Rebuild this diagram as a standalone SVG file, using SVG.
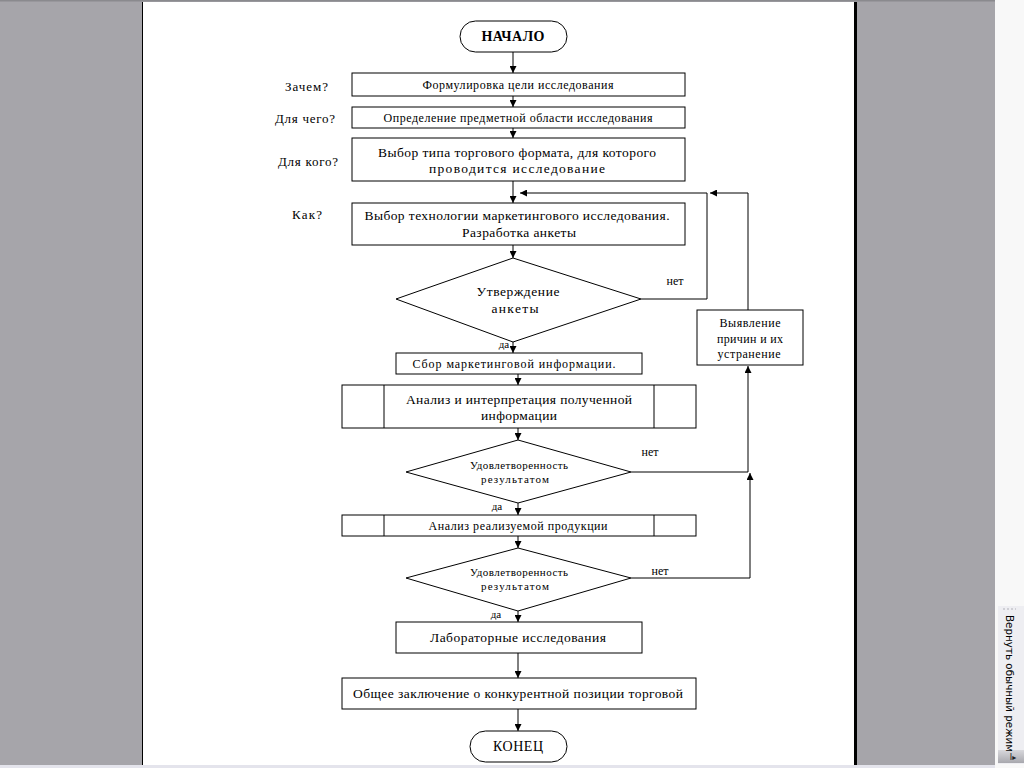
<svg xmlns="http://www.w3.org/2000/svg" width="1024" height="768" viewBox="0 0 1024 768">
<defs>
<marker id="ah" viewBox="0 0 8 8" refX="8" refY="4" markerWidth="7" markerHeight="7" markerUnits="userSpaceOnUse" orient="auto">
<path d="M0,0 L8,4 L0,8 Z" fill="#000"/>
</marker>
<linearGradient id="tabg" x1="0" y1="0" x2="0" y2="1">
<stop offset="0" stop-color="#d8d8dc"/>
<stop offset="1" stop-color="#a8a8ae"/>
</linearGradient>
</defs>
<style>
.b{fill:#fff;stroke:#000;stroke-width:1}
.t{font-family:"Liberation Serif","Times New Roman",serif;fill:#000;text-anchor:middle}
.l{font-family:"Liberation Serif","Times New Roman",serif;fill:#000;font-size:13px}
.c{fill:none;stroke:#000;stroke-width:1}
.a{fill:none;stroke:#000;stroke-width:1;marker-end:url(#ah)}
</style>
<rect x="0" y="0" width="1024" height="768" fill="#a6a5aa"/>
<rect x="0" y="0" width="995" height="1.5" fill="#8a8a8e"/>
<rect x="143" y="2" width="711" height="766" fill="#fff"/>
<rect x="142" y="2" width="1" height="766" fill="#000"/>
<rect x="854" y="2" width="3" height="766" fill="#000"/>
<rect x="995" y="0" width="29" height="768" fill="#f8f8f8"/>
<rect x="0" y="765" width="995" height="3" fill="#e4e4ec"/>
<g id="sidebar-tab">
<rect x="998" y="606" width="26" height="158" fill="#eeeef2"/>
<line x1="1003" y1="609" x2="1016" y2="609" stroke="#b0b0b8" stroke-dasharray="2,2"/>
<rect x="998" y="750" width="26" height="13" fill="url(#tabg)"/>
<text x="1013" y="760" font-family="DejaVu Sans,sans-serif" font-size="8" fill="#222" text-anchor="middle">I▸</text>
<text transform="translate(1006,615) rotate(90)" font-family="DejaVu Sans,sans-serif" font-size="10.5" fill="#000" textLength="137" lengthAdjust="spacingAndGlyphs">Вернуть обычный режим</text>
</g>

<g id="connectors">
<line class="a" x1="513" y1="52" x2="513" y2="73"/>
<line class="a" x1="513" y1="96" x2="513" y2="107"/>
<line class="a" x1="513" y1="128" x2="513" y2="138"/>
<line class="a" x1="513" y1="181" x2="513" y2="203"/>
<line class="a" x1="513" y1="245" x2="513" y2="258"/>
<line class="a" x1="513" y1="342" x2="513" y2="353"/>
<line class="a" x1="518" y1="374" x2="518" y2="385"/>
<line class="a" x1="518" y1="428" x2="518" y2="440"/>
<line class="a" x1="518" y1="503" x2="518" y2="515"/>
<line class="a" x1="518" y1="536" x2="518" y2="548"/>
<line class="a" x1="518" y1="611" x2="518" y2="622"/>
<line class="a" x1="518" y1="653" x2="518" y2="678"/>
<line class="a" x1="518" y1="709" x2="518" y2="731"/>
<polyline class="a" points="641,299 707,299 707,193 520,193"/>
<polyline class="a" points="748,310 748,193 710,193"/>
<polyline class="a" points="631,472 748,472 748,366"/>
<polyline class="a" points="631,578 750,578 750,473"/>
</g>

<g id="labels">
<text class="l" x="285" y="91" textLength="43">Зачем?</text>
<text class="l" x="275" y="123" textLength="60">Для чего?</text>
<text class="l" x="278" y="166" textLength="60">Для кого?</text>
<text class="l" x="292" y="219" textLength="30">Как?</text>
<text class="t" x="675" y="285" font-size="12">нет</text>
<text class="t" x="504" y="348" font-size="11">да</text>
<text class="t" x="650" y="456" font-size="12">нет</text>
<text class="t" x="497" y="510" font-size="11">да</text>
<text class="t" x="660" y="575" font-size="12">нет</text>
<text class="t" x="496" y="618" font-size="11">да</text>
</g>

<g id="start">
<rect class="b" x="460" y="21" width="107" height="31" rx="15.5"/>
<text class="t" x="513" y="41" font-size="14" font-weight="bold" textLength="63">НАЧАЛО</text>
</g>
<g id="step1">
<rect class="b" x="352" y="73" width="333" height="23"/>
<text class="t" x="518" y="89" font-size="12" textLength="191">Формулировка цели исследования</text>
</g>
<g id="step2">
<rect class="b" x="352" y="107" width="333" height="21"/>
<text class="t" x="518" y="122" font-size="12" textLength="269">Определение предметной области исследования</text>
</g>
<g id="step3">
<rect class="b" x="352" y="138" width="333" height="43"/>
<text class="t" x="517" y="157" font-size="13.5" textLength="278">Выбор типа торгового формата, для которого</text>
<text class="t" x="517" y="173" font-size="13.5" textLength="176">проводится исследование</text>
</g>
<g id="step4">
<rect class="b" x="352" y="203" width="333" height="42"/>
<text class="t" x="517" y="220" font-size="13.5" textLength="305">Выбор технологии маркетингового исследования.</text>
<text class="t" x="519" y="237" font-size="13.5" textLength="114">Разработка анкеты</text>
</g>
<g id="decision1">
<polygon class="b" points="513,258 641,299 513,342 396,299"/>
<text class="t" x="518" y="296" font-size="13.5" textLength="83">Утверждение</text>
<text class="t" x="515" y="313" font-size="13.5" textLength="47">анкеты</text>
</g>
<g id="fix">
<rect class="b" x="697" y="310" width="106" height="55"/>
<text class="t" x="750" y="327" font-size="12" textLength="61">Выявление</text>
<text class="t" x="750" y="343" font-size="12" textLength="66">причин и их</text>
<text class="t" x="749" y="358" font-size="12" textLength="63">устранение</text>
</g>
<g id="step5">
<rect class="b" x="396" y="353" width="246" height="21"/>
<text class="t" x="514" y="368" font-size="12" textLength="203">Сбор маркетинговой информации.</text>
</g>
<g id="step6">
<rect class="b" x="342" y="385" width="354" height="43"/>
<line class="c" x1="384" y1="385" x2="384" y2="428"/>
<line class="c" x1="654" y1="385" x2="654" y2="428"/>
<text class="t" x="519" y="404" font-size="13.5" textLength="226">Анализ и интерпретация полученной</text>
<text class="t" x="519" y="420" font-size="13.5" textLength="76">информации</text>
</g>
<g id="decision2">
<polygon class="b" points="518,440 631,472 518,503 406,472"/>
<text class="t" x="519" y="469" font-size="11" textLength="98">Удовлетворенность</text>
<text class="t" x="515" y="483" font-size="11" textLength="68">результатом</text>
</g>
<g id="step7">
<rect class="b" x="342" y="515" width="354" height="21"/>
<line class="c" x1="384" y1="515" x2="384" y2="536"/>
<line class="c" x1="654" y1="515" x2="654" y2="536"/>
<text class="t" x="518" y="530" font-size="12" textLength="179">Анализ реализуемой продукции</text>
</g>
<g id="decision3">
<polygon class="b" points="518,548 631,578 518,611 406,578"/>
<text class="t" x="519" y="576" font-size="11" textLength="98">Удовлетворенность</text>
<text class="t" x="515" y="590" font-size="11" textLength="68">результатом</text>
</g>
<g id="step8">
<rect class="b" x="396" y="622" width="246" height="31"/>
<text class="t" x="518" y="642" font-size="13.5" textLength="176">Лабораторные исследования</text>
</g>
<g id="step9">
<rect class="b" x="342" y="678" width="354" height="31"/>
<text class="t" x="518" y="698" font-size="13.5" textLength="330">Общее заключение о конкурентной позиции торговой</text>
</g>
<g id="end">
<rect class="b" x="470" y="731" width="97" height="31" rx="15.5"/>
<text class="t" x="518" y="751" font-size="14" textLength="50">КОНЕЦ</text>
</g>
</svg>
